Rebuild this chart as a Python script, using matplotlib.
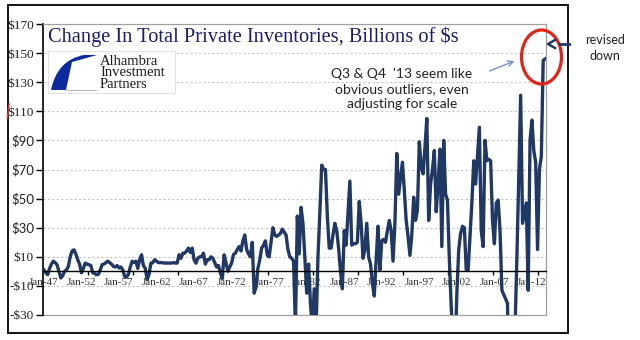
import numpy as np
import matplotlib.pyplot as plt
from matplotlib.patches import Rectangle, Ellipse, PathPatch
from matplotlib.path import Path

# change in private inventories, billions of $ (quarterly, 1947Q1 - 2013Q4)
cbi_1940s = [1, -1, -2.3, 2,  5, 7, 6, 4.5,  0, -4.6, -3, 0]
cbi_1950s = [1, 3.4, 10, 14,  14.8, 12, 8, 5,  -1, 2, 5.7, 5,  4.5, 4, -1, -1.5,
             -2.3, -2, 1, 4.6,  5, 6, 7, 6,  5, 3.4, 3, 4,  2.3, 3, 1, -3.4,
             -4, -2, 3, 7,  6, 7, 2, 8]
cbi_1960s = [11.4, 4, 2, -5.7,  -2, 5.7, 6, 8,  7, 6, 6, 6,  5.7, 5.7, 5.7, 5.7,
             5.7, 6, 5.7, 5.7,  11.4, 9, 12.5, 12.5,  14, 16, 13, 16,  8, 5.6, 9, 10,
             10, 12.5, 5, 8,  8, 10, 9, 6]
cbi_1970s = [3, 4, -1, -5,  11.4, 6, 0, 3,  5.7, 11.6, 12.5, 15,  17, 14, 21, 25,
             15, 12, 10, 20,  -15, -11, 2, 8,  16, 18, 21, 11,  10, 20, 30, 25,
             24, 25, 26, 29,  27, 25, 15, 10]
cbi_1980s = [9, 7, -38, 38,  12, 44, 33, 10,  -15, 5, -22, -40,  -12, -40, 10, 40,
             73, 70, 70, 38,  16, 16, 25, 33,  28, 16, 0, -12,  28, 18, 40, 62,
             18, 19, 19, 20,  48, 33, 9, 15]
cbi_1990s = [33, 10, 5, -8,  -17, 8, 31, 1,  21, 22, 20, 28,  35, 28, 7, 33,
             81, 53, 64, 75,  56, 35, 24, 11,  25, 51, 35, 42,  89, 72, 67, 85,
             105, 35, 60, 70,  83, 41, 60, 84]
cbi_2000s = [17, 90, 53, 49,  8, -24, -50, -60,  -15, 15, 26, 31,  30, 1, 1, 24,
             47, 76, 60, 80,  99, 28, 17, 90,  76, 77, 76, 35,  19, 47, 49, 28,
             -13, -16, -19, -22,  -110, -160, -130, -40]
cbi_2010s = [10, 65, 121, 33,  40, 47, -13, 90,  104, 83, 75, 15,  70, 79, 145, 146]

x_labels = ['Jan-47', 'Jan-52', 'Jan-57', 'Jan-62', 'Jan-67', 'Jan-72', 'Jan-77',
            'Jan-82', 'Jan-87', 'Jan-92', 'Jan-97', 'Jan-02', 'Jan-07', 'Jan-12']
y_ticks = [-30, -10, 10, 30, 50, 70, 90, 110, 130, 150, 170]
y_labels = ['-$30', '-$10', '$10', '$30', '$50', '$70', '$90', '$110', '$130', '$150', '$170']

title = 'Change In Total Private Inventories, Billions of $s'
note = "Q3 & Q4  '13 seem like\nobvious outliers, even\nadjusting for scale"

cbi = np.array(cbi_1940s + cbi_1950s + cbi_1960s + cbi_1970s +
               cbi_1980s + cbi_1990s + cbi_2000s + cbi_2010s, dtype=float)
x = np.arange(len(cbi))

W, H = 640, 340
fig = plt.figure(figsize=(6.4, 3.4), dpi=100)
ax = fig.add_axes([43 / W, 1 - 315 / H, 503 / W, 291 / H])

for v in range(-10, 170, 20):
    ax.axhline(v, color='#c4c4c4', lw=0.8, ls=(0, (2, 2)), zorder=1)
ax.axhline(-30, color='#a0a0a0', lw=0.9, zorder=1, clip_on=False)

ax.plot(x, cbi, color='#1f3864', lw=2.4, solid_joinstyle='round', zorder=3)
ax.set_xlim(-0.5, len(cbi) - 0.5)
ax.set_ylim(-30, 170)

for s in ['top', 'right']:
    ax.spines[s].set_color('#a0a0a0')
    ax.spines[s].set_linewidth(0.9)
ax.spines['left'].set_color('black')
ax.spines['left'].set_linewidth(1.2)
ax.spines['bottom'].set_position(('data', 0))
ax.spines['bottom'].set_color('black')
ax.spines['bottom'].set_linewidth(1.0)
ax.spines['bottom'].set_zorder(4)

ax.set_xticks(np.arange(0, len(cbi), 20), x_labels)
ax.set_xticks(np.arange(23.5, len(cbi), 24), minor=True)
ax.tick_params(axis='x', which='major', length=0, pad=5, labelsize=8, labelcolor='#333333')
ax.tick_params(axis='x', which='minor', length=3, width=1, color='black', direction='out')
for t in ax.get_xticklabels():
    t.set_family('Liberation Serif')

ax.set_yticks(y_ticks, y_labels)
ax.tick_params(axis='y', length=5, width=1, pad=1.5, labelsize=9.5, labelcolor='#222222')
for t, v in zip(ax.get_yticklabels(), y_ticks):
    t.set_family('Lato' if 30 <= v <= 90 else 'Liberation Serif')

# overlay in pixel coordinates for the decorations
ov = fig.add_axes([0, 0, 1, 1], facecolor='none')
ov.set_xlim(0, W)
ov.set_ylim(H, 0)
ov.axis('off')
ov.set_zorder(5)

ov.add_patch(Rectangle((8, 5), 560, 328, fill=False, ec='black', lw=1.3))

ov.text(48, 37, title, family='Liberation Serif', fontsize=14.7, color='#1c1c6b',
        ha='left', va='center')

# logo box
ov.add_patch(Rectangle((48, 51), 127, 42, fc='white', ec='#dcdcdc', lw=0.6))
swoosh = Path([(51, 90), (57, 60), (84, 55), (84, 55), (97, 55),
               (97, 55), (72, 62), (66, 90), (66, 90), (51, 90)],
              [Path.MOVETO, Path.CURVE3, Path.CURVE3, Path.LINETO, Path.LINETO,
               Path.CURVE3, Path.CURVE3, Path.LINETO, Path.LINETO, Path.CLOSEPOLY])
ov.add_patch(PathPatch(swoosh, fc='#0b2a9e', ec='none'))
ov.plot([66, 96], [90, 90], color='#b8b8c8', lw=0.8)
ov.text(100, 73, 'Alhambra\nInvestment\nPartners', family='Liberation Serif',
        fontsize=10.5, linespacing=0.82, color='#1a1a1a', ha='left', va='center')

ov.text(402, 89, note, family='Lato', fontsize=10, linespacing=1.25,
        color='#222222', ha='center', va='center')
ov.annotate('', xy=(517, 60), xytext=(487, 72),
            arrowprops=dict(arrowstyle='->', color='#6a8cc0', lw=0.9))

ov.add_patch(Ellipse((541.5, 57), 40, 54, fill=False, ec='#e2231a', lw=2.3))

ov.plot([558, 578], [44, 44], color='#1f3864', lw=2, ls=(0, (4.5, 3)))
ov.plot([555, 548, 555], [40, 44, 48], color='#1f3864', lw=1.8)
ov.text(605, 48, 'revised\ndown', family='Lato', fontsize=9, linespacing=1.3,
        color='#222222', ha='center', va='center')

ov.plot([9, 7.5], [104, 118], color='#d03030', lw=1.2)

fig.savefig('out.png', dpi=100)
